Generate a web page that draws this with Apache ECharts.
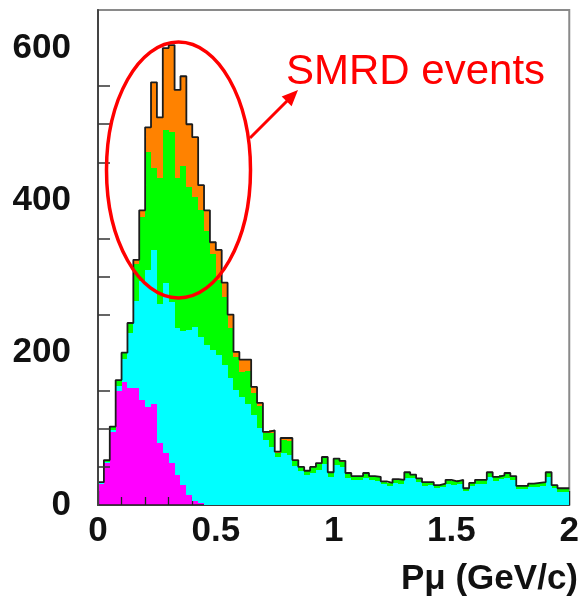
<!DOCTYPE html>
<html>
<head>
<meta charset="utf-8">
<script src="https://cdn.jsdelivr.net/npm/echarts@6/dist/echarts.min.js"></script>
<style>
html,body{margin:0;padding:0;background:#fff;}
#chart{width:582px;height:598px;}
</style>
</head>
<body>
<div id="chart"></div>
<script>
// Histogram binning: 80 bins of 0.025 GeV/c from 0 to 2
const binWidth = 0.025;
const binCount = 80;

// Stacked layers (events per bin), bottom to top
const magenta = [28,55,96,150,162,154,154,138,129,132,82,68,55,40,26,13,5,2,
  0,0,0,0,0,0,0,0,0,0,0,0,0,0,0,0,0,0,0,0,0,0,
  0,0,0,0,0,0,0,0,0,0,0,0,0,0,0,0,0,0,0,0,
  0,0,0,0,0,0,0,0,0,0,0,0,0,0,0,0,0,0,0,0];
const cyan = [1,2,3,6,30,72,114,156,179,203,182,224,211,192,202,217,229,219,210,204,
  197,184,167,151,142,132,118,101,86,76,63,68,66,51,45,40,42,46,54,37,
  52,50,36,33,33,36,33,32,27,25,29,28,36,35,30,25,26,22,24,28,
  26,28,18,25,28,28,37,32,34,36,33,21,21,23,24,25,37,22,17,17];
const green = [1,2,4,8,8,12,48,84,156,108,166,201,224,198,217,188,171,167,150,126,
  99,89,65,44,32,44,29,29,8,19,5,18,18,7,5,5,8,8,8,6,
  8,7,5,5,5,6,5,5,4,4,5,5,6,5,5,5,4,4,4,5,
  5,5,4,4,5,5,6,5,5,6,5,4,4,5,5,5,6,4,5,5];
const orange = [0,0,0,0,0,1,6,9,32,112,79,107,114,115,118,82,78,32,27,15,
  39,19,18,6,17,15,8,4,2,3,2,2,4,1,0,0,0,1,1,0,
  1,1,1,0,0,0,0,0,0,0,0,0,1,0,0,0,0,0,0,0,
  0,0,0,0,0,0,0,0,0,0,0,0,0,0,0,0,0,0,0,0];

// Tick labels
const xTickValues = [0, 0.5, 1, 1.5, 2];
const xTickLabels = ['0', '0.5', '1', '1.5', '2'];
const yTickValues = [0, 200, 400, 600];
const yTickLabels = ['0', '200', '400', '600'];
const yMinorTickValues = [50,100,150,250,300,350,450,500,550];

const layers = [
  {name: 'magenta', values: magenta, color: '#ff00ff', z: 0},
  {name: 'cyan', values: cyan, color: '#00ffff', z: 2},
  {name: 'green', values: green, color: '#00ff00', z: 2},
  {name: 'orange', values: orange, color: '#ff8200', z: 2}
];

const base = new Array(binCount).fill(0);
const series = [];
layers.forEach(function (layer) {
  const data = [];
  for (let i = 0; i < binCount; i++) {
    const b = base[i];
    const t = b + layer.values[i];
    data.push([i * binWidth, (i + 1) * binWidth, b, t]);
    base[i] = t;
  }
  series.push({
    type: 'custom',
    name: layer.name,
    z: layer.z,
    clip: true,
    encode: {x: [0, 1], y: [2, 3]},
    data: data,
    renderItem: function (params, api) {
      const p0 = api.coord([api.value(0), api.value(2)]);
      const p1 = api.coord([api.value(1), api.value(3)]);
      const x0 = Math.round(p0[0]), x1 = Math.round(p1[0]);
      const y0 = Math.round(p0[1]), y1 = Math.round(p1[1]);
      if (y0 - y1 <= 0) return null;
      return {
        type: 'rect',
        shape: {x: x0, y: y1, width: x1 - x0, height: y0 - y1},
        style: {fill: layer.color, stroke: null}
      };
    }
  });
});

// Outline of the total histogram
const outline = [[0, 0]];
for (let i = 0; i < binCount; i++) outline.push([i * binWidth, base[i]]);
outline.push([binCount * binWidth, base[binCount - 1]]);
series.push({
  type: 'line',
  name: 'total',
  z: 3,
  step: 'end',
  symbol: 'none',
  data: outline,
  lineStyle: {color: '#1c1c1c', width: 1.8},
  animation: false
});

function lookup(values, labels, v) {
  for (let k = 0; k < values.length; k++) {
    if (Math.abs(values[k] - v) < 1e-6) return labels[k];
  }
  return '';
}

const chart = echarts.init(document.getElementById('chart'), null, {renderer: 'canvas'});
chart.setOption({
  animation: false,
  backgroundColor: '#ffffff',
  grid: {left: 98, right: 7, top: 10, bottom: 93, show: true, borderColor: '#8a8a8a', borderWidth: 2, backgroundColor: 'transparent'},
  xAxis: {
    type: 'value', min: 0, max: 2, interval: 0.5, z: 1,
    axisLine: {show: true, onZero: false, lineStyle: {color: '#222', width: 1.5}},
    axisTick: {show: true, inside: true, length: 14, lineStyle: {color: '#222', width: 1.3}},
    minorTick: {show: true, splitNumber: 5, length: 8, lineStyle: {color: '#222', width: 1.3}},
    splitLine: {show: false},
    axisLabel: {
      margin: 9, fontSize: 35, fontWeight: 'bold', color: '#111',
      fontFamily: 'Liberation Sans, Arial, sans-serif',
      formatter: function (v) { return lookup(xTickValues, xTickLabels, v); }
    }
  },
  yAxis: {
    type: 'value', min: 0, max: 650, interval: 200, z: 4,
    axisLine: {show: true, onZero: false, lineStyle: {color: '#444', width: 2}},
    axisTick: {show: true, inside: true, length: 12, customValues: yMinorTickValues, lineStyle: {color: '#333', width: 1.5}},
    splitLine: {show: false},
    axisLabel: {
      margin: 27, fontSize: 35, fontWeight: 'bold', color: '#111',
      fontFamily: 'Liberation Sans, Arial, sans-serif',
      showMaxLabel: false,
      formatter: function (v) { return lookup(yTickValues, yTickLabels, v); }
    }
  },
  series: series,
  graphic: [
    {type: 'ellipse', z: 100, shape: {cx: 178.5, cy: 170, rx: 72, ry: 128},
      style: {fill: 'none', stroke: '#ff0000', lineWidth: 3.5}},
    {type: 'line', z: 100, shape: {x1: 250, y1: 138, x2: 288, y2: 100},
      style: {stroke: '#ff0000', lineWidth: 3}},
    {type: 'polygon', z: 100, shape: {points: [[298, 90], [281.7, 96.4], [291.6, 106.3]]},
      style: {fill: '#ff0000'}},
    {type: 'text', z: 100, style: {text: 'SMRD events', x: 286, y: 72, fill: '#ff0000',
      font: '42px "Liberation Sans", Arial, sans-serif', verticalAlign: 'middle', align: 'left'}},
    {type: 'text', z: 100, style: {text: 'Pμ (GeV/c)', x: 578, y: 579, fill: '#111',
      font: 'bold 35px "Liberation Sans", Arial, sans-serif', verticalAlign: 'middle', align: 'right'}}
  ]
});
</script>
</body>
</html>
